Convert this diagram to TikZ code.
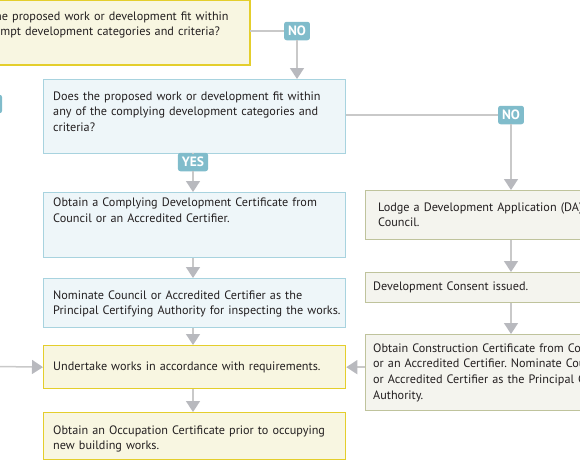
\documentclass[tikz,border=0pt]{standalone}
\usepackage{fontspec}
\setmainfont{PT Sans}
\frenchspacing
\usetikzlibrary{arrows.meta}
\definecolor{bluefill}{HTML}{EEF6F9}
\definecolor{blueedge}{HTML}{A8D3DF}
\definecolor{yelfill}{HTML}{F8F6E1}
\definecolor{yeledge}{HTML}{E4CE2C}
\definecolor{olfill}{HTML}{F4F4EE}
\definecolor{oledge}{HTML}{BFC39C}
\definecolor{lnc}{HTML}{C9C9C9}
\definecolor{tipc}{HTML}{B8B9BE}
\definecolor{tagc}{HTML}{80BCCB}
\definecolor{txtc}{HTML}{231F20}
\tikzset{
  x=1pt, y=-1pt,
  boxbase/.style={draw, line width=1.3pt, inner sep=0pt},
  bluebox/.style={boxbase, fill=bluefill, draw=blueedge},
  yelbox/.style={boxbase, fill=yelfill, draw=yeledge},
  olbox/.style={boxbase, fill=olfill, draw=oledge},
  txt/.style={anchor=base west, inner sep=0pt, text width=340pt, align=left, text=txtc,
    font=\fontsize{12.2}{15.9}\selectfont},
  tag/.style={fill=tagc, text=white, rounded corners=2.5pt, inner xsep=4pt, inner ysep=0pt,
    minimum height=18.5pt, font=\fontsize{13.5}{14}\selectfont\bfseries},
  conn/.style={draw=lnc, line width=1.5pt},
  arr/.style={conn, -{Triangle[width=14pt,length=11pt,color=tipc]}},
}
\begin{document}
\begin{tikzpicture}
\useasboundingbox (0,0) rectangle (580,461);
\clip (0,0) rectangle (580,461);
% boxes
\path[yelbox] (-50,0) rectangle (250,65);
\coordinate (topE) at (250,31);
\node[bluebox, minimum width=302pt, minimum height=74pt, anchor=north west] (b2) at (43,79) {};
\node[bluebox, minimum width=302pt, minimum height=65pt, anchor=north west] (b3) at (43,192) {};
\node[bluebox, minimum width=302pt, minimum height=49pt, anchor=north west] (b4) at (43,278) {};
\node[yelbox, minimum width=302pt, minimum height=43pt, anchor=north west] (b5) at (43,345) {};
\node[yelbox, minimum width=302pt, minimum height=47pt, anchor=north west] (b6) at (43,412) {};
\node[olbox, minimum width=250pt, minimum height=49pt, anchor=north west] (r1) at (365,190) {};
\node[olbox, minimum width=250pt, minimum height=30pt, anchor=north west] (r2) at (365,272) {};
\node[olbox, minimum width=250pt, minimum height=76pt, anchor=north west] (r3) at (365,334) {};
% texts
\node[txt] (t1) at (-39,20) {Does the proposed work or development fit within\\the exempt development categories and criteria?};
\node[txt] (t2) at (53,100) {Does the proposed work or development fit within\\any of the complying development categories and\\criteria?};
\node[txt] (t3) at (53,206.5) {Obtain a Complying Development Certificate from\\Council or an Accredited Certifier.};
\node[txt] (t4) at (53,299) {Nominate Council or Accredited Certifier as the\\Principal Certifying Authority for inspecting the works.};
\node[txt] (t5) at (53,370) {Undertake works in accordance with requirements.};
\node[txt] (t6) at (53,434) {Obtain an Occupation Certificate prior to occupying\\new building works.};
\node[txt] (t7) at (378,211) {Lodge a Development Application (DA) with\\Council.};
\node[txt] (t8) at (373,290) {Development Consent issued.};
\node[txt] (t9) at (373,352) {Obtain Construction Certificate from Council\\or an Accredited Certifier. Nominate Council\\or Accredited Certifier as the Principal Certifying\\Authority.};
% tags
\node[tag] (no1) at (297,31) {NO};
\node[tag] (no2) at (511,115) {NO};
\node[tag] (yes1) at (193,162) {YES};
\node[tag] (yes0) at (-13,104) {YES};
% connectors
\coordinate (leftin) at (0,366.5);
\draw[conn] (topE) -- (no1);
\draw[arr] (no1) -- (no1 |- b2.north);
\draw[conn] (b2.east |- no2) -- (no2);
\draw[arr] (no2) -- (no2 |- r1.north);
\draw[conn] (yes1 |- b2.south) -- (yes1);
\draw[arr] (yes1) -- (yes1 |- b3.north);
\draw[arr] (yes1 |- b3.south) -- (yes1 |- b4.north);
\draw[arr] (yes1 |- b4.south) -- (yes1 |- b5.north);
\draw[arr] (yes1 |- b5.south) -- (yes1 |- b6.north);
\draw[arr] (no2 |- r1.south) -- (no2 |- r2.north);
\draw[arr] (no2 |- r2.south) -- (no2 |- r3.north);
\draw[arr] (r3.west |- b5.east) -- (b5.east);
\draw[arr] (leftin) -- (b5.west);
\end{tikzpicture}
\end{document}
